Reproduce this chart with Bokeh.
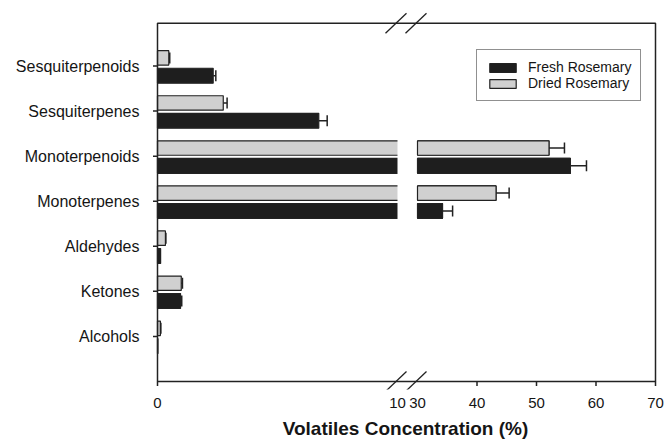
from bokeh.plotting import figure
from bokeh.models import (ColumnDataSource, FixedTicker, Whisker, TeeHead,
                          Legend, LegendItem, Range1d)
from bokeh.embed import file_html
from bokeh.resources import INLINE

# ---------------- data ----------------
categories = ["Alcohols", "Ketones", "Aldehydes", "Monoterpenes",
              "Monoterpenoids", "Sesquiterpenes", "Sesquiterpenoids"]
fresh = [0.02, 0.96, 0.13, 34.2, 55.7, 6.72, 2.32]
fresh_err = [0.0, 0.05, 0.0, 1.7, 2.7, 0.35, 0.11]
dried = [0.12, 0.99, 0.33, 43.2, 52.1, 2.74, 0.47]
dried_err = [0.02, 0.05, 0.02, 2.2, 2.6, 0.16, 0.04]
x_ticks = [0, 10, 30, 40, 50, 60, 70]
break_low, break_high, x_max = 10, 30, 70
series_labels = ["Fresh Rosemary", "Dried Rosemary"]

# ---------------- broken-axis scale (1 unit = 1 screen px) ----------------
LEFT_W, GAP_W, RIGHT_W = 240, 20, 238


def u(v):
    if v <= break_low:
        return v * LEFT_W / break_low
    return LEFT_W + GAP_W + (v - break_high) * RIGHT_W / (x_max - break_high)


FONT = "Liberation Sans"
DARK = "#1e1e1e"
LIGHT = "#d0d0d0"
EDGE = "#222222"
TXT = "#151515"

W, H = 666, 441
BORDER_L, BORDER_R, BORDER_T, BORDER_B = 151, 7, 11, 52
PAD_X = 6                      # frame extends past the drawn box, so slashes are not clipped
PAD_TOP_PX, PAD_BOT_PX = 11.7, 8
Y_TOP = 7.95
frame_h = H - BORDER_T - BORDER_B
ys = (frame_h - PAD_TOP_PX - PAD_BOT_PX) / Y_TOP     # px per y unit

ypos = list(range(1, len(categories) + 1))

p = figure(width=W, height=H, output_backend="svg", toolbar_location=None,
           x_range=Range1d(-PAD_X, W - BORDER_L - BORDER_R - PAD_X),
           y_range=Range1d(-PAD_BOT_PX / ys, Y_TOP + PAD_TOP_PX / ys),
           min_border_left=BORDER_L, min_border_right=BORDER_R,
           min_border_top=BORDER_T, min_border_bottom=BORDER_B)
p.grid.visible = False
p.outline_line_color = None
p.background_fill_color = "white"
p.border_fill_color = "white"

# bars (full length)
f_src = ColumnDataSource(dict(left=[0] * 7, right=[u(v) for v in fresh],
                              bottom=[y - 0.38 for y in ypos], top=[y - 0.05 for y in ypos]))
d_src = ColumnDataSource(dict(left=[0] * 7, right=[u(v) for v in dried],
                              bottom=[y + 0.02 for y in ypos], top=[y + 0.34 for y in ypos]))
r_fresh = p.quad(left="left", right="right", bottom="bottom", top="top", source=f_src,
                 fill_color=DARK, line_color=EDGE, line_width=1.2)
r_dried = p.quad(left="left", right="right", bottom="bottom", top="top", source=d_src,
                 fill_color=LIGHT, line_color=EDGE, line_width=1.2)

# gap in the bars that cross the break
gap_rows = [i for i in range(7) if max(fresh[i], dried[i]) > break_high]
g_src = ColumnDataSource(dict(left=[u(break_low)] * len(gap_rows),
                              right=[u(break_high)] * len(gap_rows),
                              bottom=[ypos[i] - 0.45 for i in gap_rows],
                              top=[ypos[i] + 0.42 for i in gap_rows]))
p.quad(left="left", right="right", bottom="bottom", top="top", source=g_src,
       fill_color="white", line_color=None)

# right-hand pieces redrawn with their own left edge
for vals, col, b_off, t_off in [(fresh, DARK, -0.38, -0.05), (dried, LIGHT, 0.02, 0.34)]:
    rows = [i for i in range(7) if vals[i] > break_high]
    src = ColumnDataSource(dict(left=[u(break_high)] * len(rows),
                                right=[u(vals[i]) for i in rows],
                                bottom=[ypos[i] + b_off for i in rows],
                                top=[ypos[i] + t_off for i in rows]))
    p.quad(left="left", right="right", bottom="bottom", top="top", source=src,
           fill_color=col, line_color=EDGE, line_width=1.2)

# error bars
for vals, errs, off in [(fresh, fresh_err, -0.215), (dried, dried_err, 0.18)]:
    rows = [i for i in range(7) if errs[i] > 0]
    src = ColumnDataSource(dict(base=[ypos[i] + off for i in rows],
                                lower=[u(vals[i]) for i in rows],
                                upper=[u(vals[i] + errs[i]) for i in rows]))
    p.add_layout(Whisker(base="base", lower="lower", upper="upper", dimension="width",
                         source=src, line_color=EDGE, line_width=1.5,
                         upper_head=TeeHead(size=11, line_color=EDGE, line_width=1.5),
                         lower_head=None))

# plot box (axes lines + frame)
p.quad(left=[0], right=[u(x_max)], bottom=[0], top=[Y_TOP],
       fill_color=None, line_color=EDGE, line_width=1.5)

# tick marks
TICK = 4.5
y_tick_src = ColumnDataSource(dict(x0=[-TICK] * len(ypos), x1=[0] * len(ypos), y=ypos))
p.segment(x0="x0", x1="x1", y0="y", y1="y", source=y_tick_src,
          line_color=EDGE, line_width=1.5)
xt = [u(t) for t in x_ticks if t not in (break_low, break_high)]
p.segment(x0=xt, x1=xt, y0=[0] * len(xt), y1=[-TICK / ys] * len(xt),
          line_color=EDGE, line_width=1.5)

# axis-break slashes on top and bottom lines
sx, sy = 10.5, 10 / ys
for cx in (u(break_low) - 1.5, u(break_high) - 1.5):
    for yc in (0, Y_TOP):
        p.segment(x0=[cx - sx], y0=[yc - sy], x1=[cx + sx], y1=[yc + sy],
                  line_color=EDGE, line_width=1.3)

# axes (labels only)
xa = p.xaxis[0]
xa.ticker = FixedTicker(ticks=[u(t) for t in x_ticks])
xa.major_label_overrides = {u(t): str(t) for t in x_ticks}
xa.minor_tick_line_color = None
xa.major_tick_line_color = None
xa.axis_line_color = None
xa.major_tick_out = 0
xa.major_tick_in = 0
xa.major_label_standoff = 8
xa.major_label_text_font = FONT
xa.major_label_text_font_size = "15px"
xa.major_label_text_color = TXT
xa.axis_label = "Volatiles Concentration (%)"
xa.axis_label_text_font = FONT
xa.axis_label_text_font_style = "bold"
xa.axis_label_text_font_size = "19px"
xa.axis_label_text_color = TXT
xa.axis_label_standoff = 7

ya = p.yaxis[0]
ya.ticker = FixedTicker(ticks=ypos)
ya.major_label_overrides = {y: c for y, c in zip(ypos, categories)}
ya.minor_tick_line_color = None
ya.major_tick_line_color = None
ya.axis_line_color = None
ya.major_tick_out = 0
ya.major_tick_in = 0
ya.major_label_standoff = 12
ya.major_label_text_font = FONT
ya.major_label_text_font_size = "16px"
ya.major_label_text_color = TXT

legend = Legend(items=[LegendItem(label=series_labels[0], renderers=[r_fresh]),
                       LegendItem(label=series_labels[1], renderers=[r_dried])],
                location=(476 - BORDER_L, (H - BORDER_B) - 101), orientation="vertical",
                glyph_width=33, glyph_height=11, label_height=11, label_standoff=9,
                spacing=0, padding=9, margin=0,
                label_text_font=FONT, label_text_font_size="14px",
                label_text_color=TXT,
                border_line_color=EDGE, border_line_width=1.5,
                background_fill_color="white", background_fill_alpha=1)
p.add_layout(legend)

open("out.html", "w").write(file_html(p, INLINE))
